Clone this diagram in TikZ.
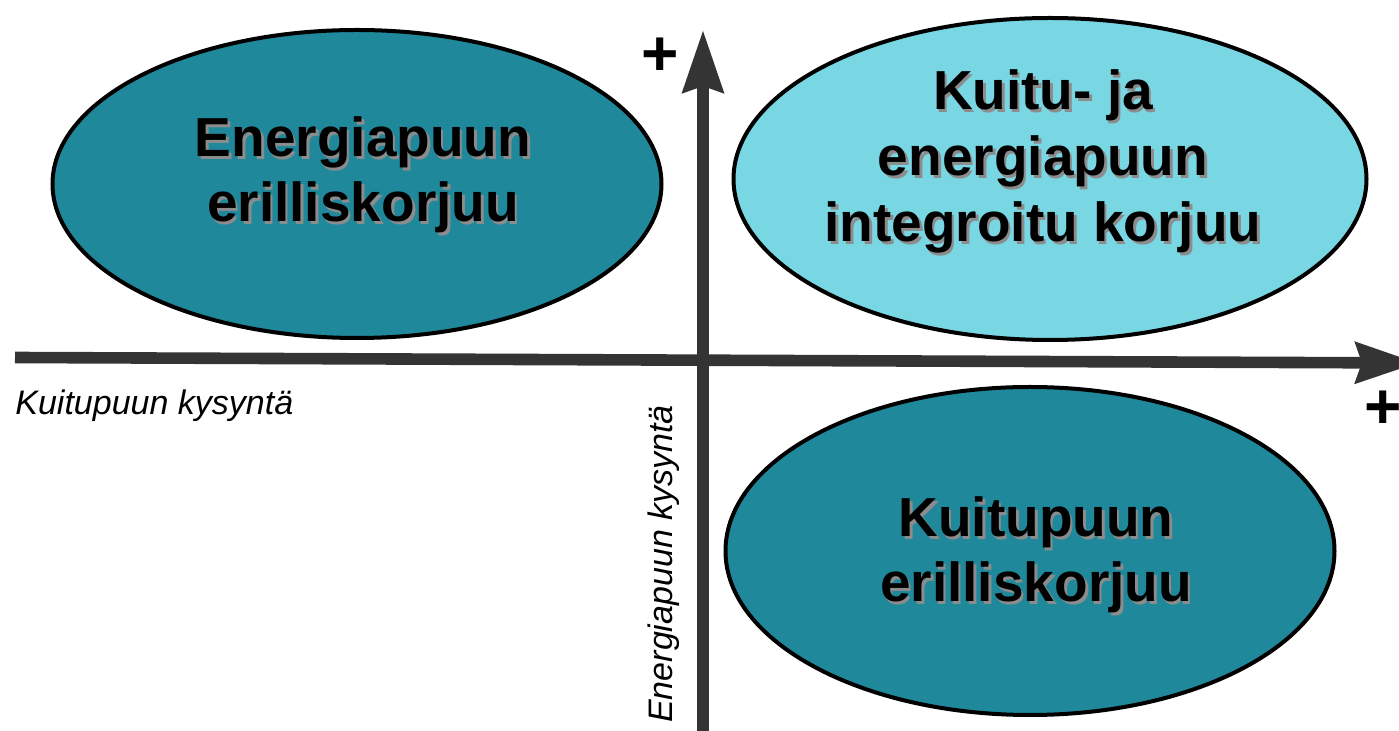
\documentclass[tikz,border=0pt]{standalone}
\usepackage{fontspec}
\setmainfont{Liberation Sans}
\usepackage{tikz}
\usetikzlibrary{shapes.geometric,arrows.meta}

\definecolor{tealdark}{RGB}{31,137,155}
\definecolor{teallight}{RGB}{121,215,228}
\definecolor{axisgrey}{RGB}{52,52,52}

% bold label with a grey drop shadow
\newcommand{\shtext}[1]{\leavevmode\rlap{\kern1.3pt\raisebox{-1.3pt}{\color{black!45}#1}}#1}

\tikzset{
  area/.style={ellipse, draw=black, line width=2pt, inner sep=0pt},
  areatext/.style={align=center, inner sep=0pt, font=\bfseries\fontsize{27.5}{32.5}\selectfont},
  axislabel/.style={inner sep=0pt, font=\itshape\fontsize{17}{20}\selectfont},
  axis/.style={draw=axisgrey, line width=5.8pt, -{Stealth[length=31pt, width=20pt, inset=3pt]}},
  plus/.style={inner sep=0pt, font=\bfseries\fontsize{32}{32}\selectfont}
}

\begin{document}
\begin{tikzpicture}[x=0.5pt,y=0.5pt,yscale=-1,xscale=1]
  \clip (0,0) rectangle (1399,731);

  %Ellipses (sizes in pt, half the pixel size)
  \node (energia) [area, fill=tealdark, minimum width=304.5pt, minimum height=154pt] at (357,184) {};
  \node (integroitu) [area, fill=teallight, minimum width=316.5pt, minimum height=161pt] at (1050,179) {};
  \node (kuitu) [area, fill=tealdark, minimum width=304.5pt, minimum height=164pt] at (1030,551) {};

  %Axes
  \coordinate (xstart) at (15,357.5);
  \coordinate (xend) at (1418,363);
  \coordinate (ystart) at (703,740);
  \coordinate (yend) at (703,30);
  \draw [axis] (xstart) -- (xend);
  \draw [axis] (ystart) -- (yend);

  % Text Node
  \node (energiatext) [areatext] at (363,176) {\shtext{Energiapuun}\\\shtext{erilliskorjuu}};
  % Text Node
  \node (integroitutext) [areatext, font=\bfseries\fontsize{27.5}{33}\selectfont] at (1043,163) {\shtext{Kuitu- ja}\\\shtext{energiapuun}\\\shtext{integroitu korjuu}};
  % Text Node
  \node (kuitutext) [areatext] at (1036,556) {\shtext{Kuitupuun}\\\shtext{erilliskorjuu}};

  % Text Node
  \node (xlabel) [axislabel, anchor=base west] at (15,415) {Kuitupuun kysyntä};
  % Text Node
  \node (ylabel) [axislabel, anchor=base, rotate=90] at (672,564) {Energiapuun kysyntä};
  % Text Node
  \node (yplus) [plus] at (660,57) {+};
  % Text Node
  \node (xplus) [plus] at (1383,410) {+};
\end{tikzpicture}
\end{document}
